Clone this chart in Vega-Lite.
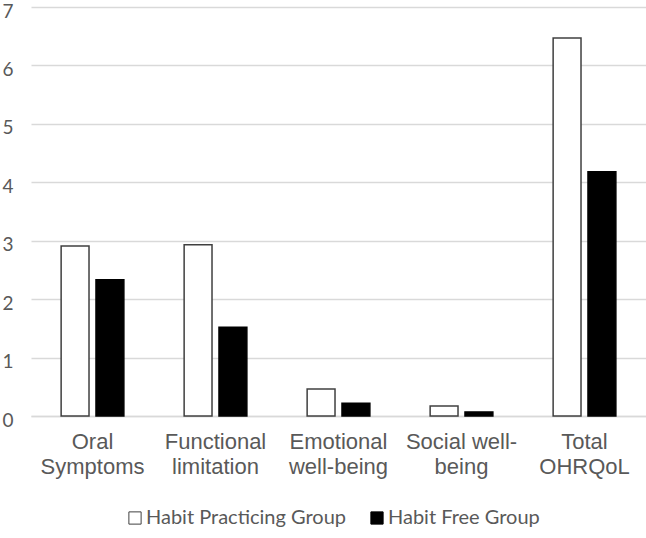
{
  "$schema": "https://vega.github.io/schema/vega-lite/v6.json",
  "width": 615,
  "height": 409,
  "autosize": {"type": "none"},
  "padding": {"left": 31, "top": 7, "right": 0, "bottom": 122},
  "background": "white",
  "config": {"view": {"stroke": null}},
  "data": {
    "values": [
      {"domain": "Oral Symptoms", "group": "Habit Practicing Group", "score": 2.91},
      {"domain": "Oral Symptoms", "group": "Habit Free Group", "score": 2.33},
      {"domain": "Functional limitation", "group": "Habit Practicing Group", "score": 2.93},
      {"domain": "Functional limitation", "group": "Habit Free Group", "score": 1.52},
      {"domain": "Emotional well-being", "group": "Habit Practicing Group", "score": 0.46},
      {"domain": "Emotional well-being", "group": "Habit Free Group", "score": 0.22},
      {"domain": "Social well-being", "group": "Habit Practicing Group", "score": 0.17},
      {"domain": "Social well-being", "group": "Habit Free Group", "score": 0.07},
      {"domain": "Total OHRQoL", "group": "Habit Practicing Group", "score": 6.47},
      {"domain": "Total OHRQoL", "group": "Habit Free Group", "score": 4.18}
    ]
  },
  "mark": {"type": "bar", "strokeWidth": 1.5},
  "encoding": {
    "x": {
      "field": "domain",
      "type": "nominal",
      "sort": ["Oral Symptoms", "Functional limitation", "Emotional well-being", "Social well-being", "Total OHRQoL"],
      "scale": {"paddingInner": 0.49, "paddingOuter": 0.245},
      "axis": {
        "title": null,
        "labelAngle": 0,
        "ticks": false,
        "domainColor": "#d9d9d9",
        "domainWidth": 1.5,
        "labelFont": "Liberation Sans",
        "labelFontSize": 22,
        "labelColor": "#595959",
        "labelPadding": 15,
        "labelLineHeight": 25,
        "labelLimit": 300,
        "labelExpr": "datum.value == 'Oral Symptoms' ? ['Oral', 'Symptoms'] : datum.value == 'Functional limitation' ? ['Functional', 'limitation'] : datum.value == 'Emotional well-being' ? ['Emotional', 'well-being'] : datum.value == 'Social well-being' ? ['Social well-', 'being'] : ['Total', 'OHRQoL']"
      }
    },
    "xOffset": {
      "field": "group",
      "type": "nominal",
      "sort": ["Habit Practicing Group", "Habit Free Group"],
      "scale": {"paddingInner": 0.2, "paddingOuter": 0}
    },
    "y": {
      "field": "score",
      "type": "quantitative",
      "scale": {"domain": [0, 7]},
      "axis": {
        "title": null,
        "values": [0, 1, 2, 3, 4, 5, 6, 7],
        "labelOverlap": false,
        "ticks": false,
        "domain": false,
        "gridColor": "#d9d9d9",
        "gridWidth": 1.5,
        "labelFont": "Lato",
        "labelFontSize": 19,
        "labelColor": "#595959",
        "labelPadding": 18,
        "labelOffset": 4
      }
    },
    "fill": {
      "field": "group",
      "type": "nominal",
      "sort": ["Habit Practicing Group", "Habit Free Group"],
      "scale": {"domain": ["Habit Practicing Group", "Habit Free Group"], "range": ["#ffffff", "#000000"]},
      "legend": {
        "title": null,
        "orient": "none",
        "direction": "horizontal",
        "legendX": 94,
        "legendY": 501,
        "symbolType": "square",
        "symbolSize": 150,
        "symbolStrokeColor": "#000000",
        "symbolStrokeWidth": 1,
        "labelFont": "Lato",
        "labelFontSize": 20,
        "labelColor": "#595959",
        "labelLimit": 400,
        "labelOffset": 1,
        "columnPadding": 21
      }
    },
    "stroke": {
      "field": "group",
      "type": "nominal",
      "scale": {"domain": ["Habit Practicing Group", "Habit Free Group"], "range": ["#404040", "#000000"]},
      "legend": null
    }
  }
}
